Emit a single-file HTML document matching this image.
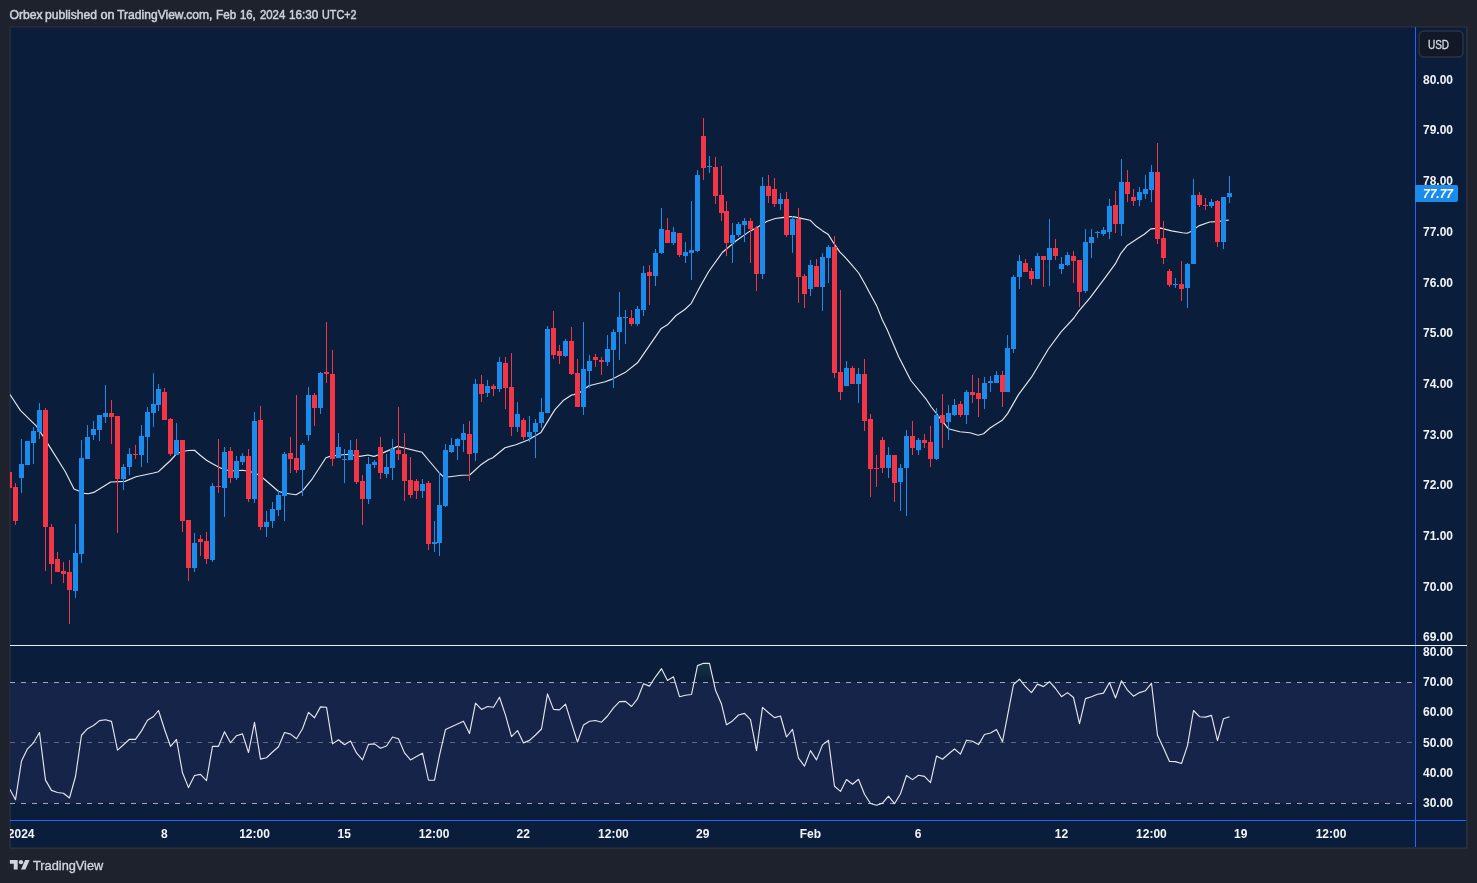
<!DOCTYPE html>
<html lang="en">
<head>
<meta charset="utf-8">
<title>Orbex published on TradingView.com</title>
<style>
html,body{margin:0;padding:0;background:#1e222d;}
body{width:1477px;height:883px;overflow:hidden;position:relative;font-family:"Liberation Sans",sans-serif;}
svg{position:absolute;left:0;top:0;display:block;}
text{font-family:"Liberation Sans",sans-serif;}
.ax text{font-size:12px;font-weight:bold;fill:#f3f4f8;}
.tm text{font-size:12px;font-weight:bold;fill:#f3f4f8;text-anchor:middle;}
</style>
</head>
<body>
<svg width="1477" height="883" viewBox="0 0 1477 883">
<defs>
<clipPath id="pane"><rect x="10" y="28" width="1405" height="819"/></clipPath>
<linearGradient id="obg" x1="0" y1="655" x2="0" y2="682.5" gradientUnits="userSpaceOnUse">
<stop offset="0" stop-color="#4caf50" stop-opacity="0.22"/><stop offset="1" stop-color="#4caf50" stop-opacity="0"/>
</linearGradient>
</defs>
<rect x="0" y="0" width="1477" height="883" fill="#1e222d"/>
<rect x="9.4" y="26.2" width="1458.3" height="823" fill="#2b2f3b"/>
<rect x="10.8" y="27.5" width="1455.2" height="819.9" fill="#0a1e3b"/>
<text y="19.2" font-size="12" fill="#cdd0da" stroke="#cdd0da" stroke-width="0.5"><tspan x="9.5" textLength="33.2" lengthAdjust="spacingAndGlyphs">Orbex</tspan> <tspan x="45.1" textLength="51.8" lengthAdjust="spacingAndGlyphs">published</tspan> <tspan x="100.4" textLength="14.2" lengthAdjust="spacingAndGlyphs">on</tspan> <tspan x="117.2" textLength="95.2" lengthAdjust="spacingAndGlyphs">TradingView.com,</tspan> <tspan x="216.1" textLength="20.1" lengthAdjust="spacingAndGlyphs">Feb</tspan> <tspan x="239.9" textLength="15.8" lengthAdjust="spacingAndGlyphs">16,</tspan> <tspan x="259.9" textLength="25.4" lengthAdjust="spacingAndGlyphs">2024</tspan> <tspan x="289" textLength="29.3" lengthAdjust="spacingAndGlyphs">16:30</tspan> <tspan x="322" textLength="34.5" lengthAdjust="spacingAndGlyphs">UTC+2</tspan></text>
<g clip-path="url(#pane)">
<g shape-rendering="crispEdges">
<rect x="10" y="682" width="1405" height="121" fill="#16244a"/>
</g>
<g fill="url(#obg)"><polygon points="651.82,682.5 655.5,676.8 661.5,668.7 667.5,680.4 673.5,676.8 675.22,682.5"/><polygon points="693.99,682.5 697.5,665.6 703.5,663.3 709.5,663.3 713.78,682.5"/><polygon points="1015.76,682.5 1019.5,679.2 1022.18,682.5"/><polygon points="1048.52,682.5 1049.5,681.7 1050.21,682.5"/><polygon points="1120.88,682.5 1121.5,680.7 1122.64,682.5"/></g>
<g fill="none" stroke-width="1" shape-rendering="crispEdges">
<path d="M10 682.5H1415M10 803.5H1415" stroke="#a4a7b1" stroke-dasharray="5 6"/>
<path d="M10 742.5H1415" stroke="#5f6680" stroke-dasharray="5 6"/>
</g>
<polyline fill="none" stroke="#e4e6ec" stroke-width="1.15" stroke-linejoin="round" points="10,394.5 20.4,410.4 36.7,426.4 47.6,443.4 65.2,471.5 74,489 78.8,491 84.2,493.4 88.3,493.8 93.75,492.4 110.7,482 125,481.4 135.9,476.7 153.5,473 158.5,471.7 164.5,466 170.5,460.5 176.5,453.8 182.5,451.5 188.5,450.5 194.5,450.2 200.5,455.5 206.5,460.3 212.5,463.8 218.5,467 224.5,469.8 230.5,470.6 236.5,470.7 242.5,470.3 248.5,471.3 254.5,472.8 260.5,476 266.5,481 278.3,491.3 283.75,493 296,494.7 302.1,491.3 312.3,478.8 325.9,457.7 330,456.4 340.8,455 348.3,454.3 359.8,456.4 368,455 374.1,456.4 380.2,454.3 383,452.9 397.7,446.4 422.1,452.3 428,459.5 439.4,473 443.2,476.7 447.9,477 461.5,475.3 469.7,475 480.5,465.1 488.7,459.6 492.8,457.7 505,447.7 515.9,444.7 528,440 541,432.4 552.6,413.4 555,409.6 563.2,400.6 571.6,395 574,394.6 580.8,391.9 588.9,385.8 605.2,381.7 610.9,379.65 625,372.6 637.5,362.8 660.9,328.8 667.4,324.8 676.1,315.5 684.8,309.5 691.3,303.3 698.3,290 701.6,284 708.7,271.5 722.3,252.5 735.9,241 749.5,231.4 758.3,226.7 767.1,221.25 775.3,218.5 782.1,217.6 789.5,216.6 792.9,216.6 800,218.15 810.3,220.3 816.3,226.3 822.3,230.65 828.4,234.6 833.7,243.2 839.7,251.85 845.65,257.8 852.2,265.4 858.7,273 865.2,284.5 870.65,294.8 876.6,305.65 882.4,320 887.1,329.6 898.7,356.7 910.9,380.5 925.9,398.8 931.3,407 936.7,413.75 942.9,421.9 948.3,428.7 959.8,431.7 970,432.8 978.2,435.2 983.6,433.8 990,428 1002.6,419.9 1007.6,413.65 1018.5,394.6 1031.5,377.2 1048.4,349 1060.9,332.1 1073.9,318 1078.7,311.2 1090,297.9 1105.9,276.6 1115.1,264.2 1120.7,253.6 1126.8,245.8 1137.6,238.5 1144.3,234.3 1150.8,228.9 1160.7,228.1 1171.5,230.9 1182.4,232.8 1187.1,233.2 1191,231.5 1198.7,225.85 1209.6,222 1217.7,221.6 1228.8,220"/>
<path shape-rendering="crispEdges" fill="#1c8cec" d="M21 439h1v54h-1zM19 464h5v14h-5zM27 441h1v24h-1zM25 441h5v24h-5zM33 427h1v37h-1zM31 431h5v12h-5zM39 403h1v36h-1zM37 410h5v22h-5zM75 524h1v74h-1zM73 553h5v38h-5zM81 440h1v123h-1zM79 458h5v96h-5zM87 425h1v34h-1zM85 437h5v22h-5zM93 421h1v19h-1zM91 429h5v6h-5zM99 415h1v26h-1zM97 415h5v15h-5zM105 385h1v38h-1zM103 413h5v4h-5zM123 464h1v26h-1zM121 467h5v12h-5zM129 448h1v27h-1zM127 454h5v13h-5zM141 425h1v42h-1zM139 436h5v19h-5zM147 407h1v56h-1zM145 412h5v25h-5zM153 373h1v54h-1zM151 404h5v9h-5zM158 384h1v27h-1zM156 389h5v16h-5zM176 423h1v32h-1zM174 440h5v15h-5zM194 533h1v39h-1zM192 543h5v25h-5zM212 483h1v79h-1zM210 486h5v74h-5zM224 447h1v70h-1zM222 452h5v36h-5zM236 456h1v24h-1zM234 461h5v17h-5zM242 453h1v12h-1zM240 456h5v6h-5zM254 412h1v91h-1zM252 421h5v78h-5zM266 511h1v26h-1zM264 522h5v5h-5zM272 502h1v26h-1zM270 509h5v12h-5zM278 490h1v26h-1zM276 495h5v15h-5zM284 452h1v69h-1zM282 454h5v42h-5zM302 443h1v53h-1zM300 445h5v25h-5zM308 387h1v54h-1zM306 395h5v40h-5zM320 372h1v42h-1zM318 373h5v35h-5zM338 433h1v25h-1zM336 447h5v11h-5zM344 449h1v34h-1zM342 459h5v1h-5zM350 440h1v20h-1zM348 450h5v10h-5zM368 457h1v47h-1zM366 464h5v35h-5zM374 460h1v8h-1zM372 462h5v3h-5zM386 454h1v24h-1zM384 467h5v7h-5zM392 439h1v41h-1zM390 449h5v19h-5zM422 479h1v19h-1zM420 484h5v7h-5zM434 521h1v31h-1zM432 542h5v2h-5zM439 472h1v84h-1zM437 505h5v38h-5zM445 444h1v63h-1zM443 450h5v56h-5zM451 438h1v15h-1zM449 445h5v7h-5zM457 438h1v22h-1zM455 439h5v7h-5zM463 424h1v28h-1zM461 433h5v7h-5zM475 379h1v82h-1zM473 384h5v69h-5zM487 380h1v17h-1zM485 386h5v7h-5zM499 357h1v35h-1zM497 362h5v27h-5zM517 402h1v30h-1zM515 414h5v13h-5zM529 416h1v26h-1zM527 432h5v5h-5zM535 419h1v39h-1zM533 423h5v9h-5zM541 398h1v30h-1zM539 412h5v11h-5zM547 326h1v87h-1zM545 329h5v84h-5zM565 339h1v18h-1zM563 341h5v15h-5zM583 322h1v93h-1zM581 369h5v38h-5zM589 355h1v33h-1zM587 361h5v10h-5zM607 335h1v31h-1zM605 349h5v13h-5zM613 329h1v59h-1zM611 332h5v18h-5zM619 292h1v68h-1zM617 317h5v15h-5zM625 310h1v34h-1zM623 317h5v1h-5zM637 306h1v20h-1zM635 309h5v15h-5zM643 266h1v50h-1zM641 273h5v37h-5zM655 249h1v37h-1zM653 253h5v23h-5zM661 208h1v46h-1zM659 229h5v24h-5zM673 227h1v18h-1zM671 232h5v11h-5zM685 242h1v21h-1zM683 252h5v4h-5zM691 201h1v79h-1zM689 250h5v3h-5zM697 170h1v82h-1zM695 175h5v76h-5zM709 156h1v17h-1zM707 166h5v1h-5zM732 223h1v40h-1zM730 235h5v8h-5zM738 222h1v15h-1zM736 224h5v11h-5zM744 218h1v24h-1zM742 221h5v4h-5zM762 177h1v102h-1zM760 186h5v88h-5zM780 193h1v17h-1zM778 199h5v5h-5zM792 216h1v37h-1zM790 219h5v16h-5zM810 260h1v36h-1zM808 265h5v24h-5zM822 253h1v58h-1zM820 257h5v30h-5zM828 245h1v38h-1zM826 247h5v11h-5zM846 361h1v25h-1zM844 368h5v18h-5zM858 368h1v35h-1zM856 374h5v10h-5zM888 447h1v31h-1zM886 455h5v13h-5zM900 464h1v47h-1zM898 468h5v14h-5zM906 430h1v86h-1zM904 436h5v32h-5zM918 438h1v17h-1zM916 440h5v10h-5zM936 408h1v52h-1zM934 415h5v44h-5zM948 405h1v35h-1zM946 413h5v9h-5zM954 399h1v17h-1zM952 405h5v10h-5zM966 390h1v34h-1zM964 392h5v23h-5zM984 377h1v32h-1zM982 383h5v16h-5zM990 376h1v16h-1zM988 381h5v2h-5zM996 371h1v12h-1zM994 375h5v8h-5zM1007 335h1v57h-1zM1005 348h5v44h-5zM1013 275h1v78h-1zM1011 277h5v72h-5zM1019 255h1v34h-1zM1017 261h5v16h-5zM1037 253h1v26h-1zM1035 256h5v23h-5zM1049 219h1v67h-1zM1047 248h5v12h-5zM1061 257h1v17h-1zM1059 264h5v5h-5zM1067 252h1v14h-1zM1065 255h5v10h-5zM1085 229h1v64h-1zM1083 242h5v49h-5zM1091 229h1v29h-1zM1089 237h5v6h-5zM1097 231h1v7h-1zM1095 232h5v1h-5zM1103 227h1v9h-1zM1101 230h5v4h-5zM1109 199h1v40h-1zM1107 206h5v26h-5zM1121 159h1v77h-1zM1119 182h5v42h-5zM1139 187h1v19h-1zM1137 192h5v8h-5zM1145 175h1v24h-1zM1143 189h5v5h-5zM1151 165h1v37h-1zM1149 172h5v18h-5zM1175 278h1v10h-1zM1173 284h5v1h-5zM1187 263h1v45h-1zM1185 264h5v24h-5zM1193 179h1v85h-1zM1191 195h5v69h-5zM1211 199h1v9h-1zM1209 202h5v4h-5zM1223 197h1v52h-1zM1221 197h5v45h-5zM1229 176h1v27h-1zM1227 193h5v4h-5z"/>
<path shape-rendering="crispEdges" fill="#f23645" d="M9 472h1v16h-1zM7 472h5v16h-5zM15 483h1v42h-1zM13 487h5v34h-5zM45 408h1v163h-1zM43 410h5v117h-5zM51 524h1v60h-1zM49 527h5v37h-5zM57 552h1v20h-1zM55 559h5v13h-5zM63 562h1v21h-1zM61 571h5v3h-5zM69 560h1v64h-1zM67 572h5v18h-5zM111 400h1v44h-1zM109 413h5v4h-5zM117 416h1v117h-1zM115 416h5v63h-5zM135 445h1v14h-1zM133 454h5v1h-5zM164 388h1v32h-1zM162 392h5v28h-5zM170 418h1v38h-1zM168 419h5v35h-5zM182 440h1v92h-1zM180 440h5v81h-5zM188 520h1v61h-1zM186 520h5v48h-5zM200 535h1v21h-1zM198 539h5v3h-5zM206 532h1v32h-1zM204 541h5v18h-5zM218 439h1v54h-1zM216 486h5v1h-5zM230 447h1v36h-1zM228 451h5v27h-5zM248 449h1v53h-1zM246 456h5v43h-5zM260 406h1v124h-1zM258 420h5v107h-5zM290 437h1v36h-1zM288 453h5v6h-5zM296 395h1v78h-1zM294 458h5v12h-5zM314 393h1v33h-1zM312 395h5v13h-5zM326 322h1v61h-1zM324 372h5v2h-5zM332 350h1v116h-1zM330 374h5v85h-5zM356 439h1v45h-1zM354 450h5v32h-5zM362 475h1v50h-1zM360 481h5v18h-5zM380 437h1v42h-1zM378 447h5v26h-5zM398 407h1v53h-1zM396 450h5v4h-5zM404 433h1v68h-1zM402 454h5v27h-5zM410 457h1v41h-1zM408 480h5v15h-5zM416 479h1v20h-1zM414 481h5v10h-5zM428 481h1v69h-1zM426 483h5v61h-5zM469 421h1v60h-1zM467 434h5v20h-5zM481 375h1v27h-1zM479 384h5v10h-5zM493 384h1v12h-1zM491 386h5v3h-5zM505 357h1v52h-1zM503 363h5v25h-5zM511 353h1v83h-1zM509 387h5v40h-5zM523 418h1v22h-1zM521 420h5v17h-5zM553 311h1v48h-1zM551 328h5v27h-5zM559 345h1v19h-1zM557 351h5v5h-5zM571 327h1v48h-1zM569 341h5v33h-5zM577 359h1v48h-1zM575 373h5v34h-5zM595 354h1v13h-1zM593 357h5v3h-5zM601 357h1v18h-1zM599 360h5v2h-5zM631 310h1v16h-1zM629 318h5v6h-5zM649 265h1v40h-1zM647 272h5v4h-5zM667 218h1v25h-1zM665 230h5v13h-5zM679 233h1v24h-1zM677 233h5v22h-5zM703 118h1v62h-1zM701 136h5v32h-5zM715 157h1v47h-1zM713 167h5v29h-5zM721 166h1v55h-1zM719 195h5v18h-5zM726 201h1v55h-1zM724 211h5v32h-5zM750 218h1v45h-1zM748 221h5v8h-5zM756 226h1v65h-1zM754 228h5v46h-5zM768 175h1v28h-1zM766 186h5v10h-5zM774 178h1v29h-1zM772 189h5v15h-5zM786 192h1v45h-1zM784 199h5v36h-5zM798 208h1v95h-1zM796 219h5v58h-5zM804 274h1v34h-1zM802 276h5v18h-5zM816 259h1v28h-1zM814 266h5v21h-5zM834 236h1v142h-1zM832 247h5v126h-5zM840 290h1v110h-1zM838 372h5v20h-5zM852 366h1v18h-1zM850 368h5v16h-5zM864 359h1v72h-1zM862 374h5v47h-5zM870 414h1v83h-1zM868 419h5v50h-5zM876 455h1v32h-1zM874 468h5v1h-5zM882 437h1v36h-1zM880 440h5v28h-5zM894 455h1v47h-1zM892 455h5v28h-5zM912 421h1v34h-1zM910 436h5v12h-5zM924 434h1v14h-1zM922 440h5v3h-5zM930 426h1v41h-1zM928 442h5v17h-5zM942 394h1v54h-1zM940 415h5v8h-5zM960 401h1v16h-1zM958 404h5v11h-5zM972 375h1v28h-1zM970 392h5v3h-5zM978 378h1v39h-1zM976 393h5v6h-5zM1002 371h1v36h-1zM1000 375h5v17h-5zM1025 259h1v13h-1zM1023 263h5v9h-5zM1031 268h1v17h-1zM1029 271h5v8h-5zM1043 256h1v31h-1zM1041 256h5v4h-5zM1055 239h1v21h-1zM1053 248h5v8h-5zM1073 251h1v32h-1zM1071 256h5v5h-5zM1079 260h1v47h-1zM1077 260h5v32h-5zM1115 191h1v42h-1zM1113 205h5v19h-5zM1127 170h1v32h-1zM1125 182h5v12h-5zM1133 189h1v17h-1zM1131 197h5v4h-5zM1157 143h1v101h-1zM1155 172h5v67h-5zM1163 221h1v43h-1zM1161 238h5v20h-5zM1169 269h1v18h-1zM1167 271h5v14h-5zM1181 261h1v40h-1zM1179 284h5v5h-5zM1199 192h1v15h-1zM1197 195h5v10h-5zM1205 198h1v12h-1zM1203 205h5v1h-5zM1217 200h1v47h-1zM1215 201h5v41h-5z"/>
<polyline fill="none" stroke="#e4e6ec" stroke-width="1.15" stroke-linejoin="round" points="9.5,788.7 15.5,799.7 21.5,761 27.5,748.8 33.5,742.8 39.5,732.5 45.5,780.1 51.5,790.4 57.5,792.5 63.5,793.3 69.5,798 75.5,776.5 81.5,735.25 87.5,728.7 93.5,725.5 99.5,720.6 105.5,719.8 111.5,721.4 117.5,750.1 123.5,744.7 129.5,739.3 135.5,739.3 141.5,730.9 147.5,720.25 153.5,716.5 158.5,710.5 164.5,729.2 170.5,746.3 176.5,739.5 182.5,772.8 188.5,787.6 194.5,775.5 200.5,774.4 206.5,780.6 212.5,746.3 218.5,746.3 224.5,731.7 230.5,742.75 236.5,735.7 242.5,733.9 248.5,752.5 254.5,722.4 260.5,759.1 266.5,757.75 272.5,752 278.5,746.8 284.5,732.5 290.5,734.1 296.5,738.7 302.5,728.7 308.5,712.4 314.5,717.8 320.5,706.9 326.5,707.2 332.5,743.9 338.5,739.8 344.5,744.7 350.5,741.1 356.5,752.9 362.5,759.9 368.5,744.4 374.5,743.9 380.5,748.3 386.5,746 392.5,737 398.5,738.7 404.5,752.9 410.5,759.9 416.5,756.5 422.5,753.2 428.5,780.25 434.5,780.1 439.5,755.3 445.5,729.5 451.5,726.8 457.5,724 463.5,721.2 469.5,733.6 475.5,703.2 481.5,709.4 487.5,706.5 493.5,707.3 499.5,697.2 505.5,715.1 511.5,736.7 517.5,730.6 523.5,742.9 529.5,740.4 535.5,735 541.5,729 547.5,693.9 553.5,709.4 559.5,709.9 565.5,704.2 571.5,723.3 577.5,742 583.5,724.9 589.5,721.3 595.5,720.5 601.5,722.2 607.5,716 613.5,707.8 619.5,701.6 625.5,701.4 631.5,706.5 637.5,698.8 643.5,683.7 649.5,686.1 655.5,676.8 661.5,668.7 667.5,680.4 673.5,676.8 679.5,696.7 685.5,695.25 691.5,694.5 697.5,665.6 703.5,663.3 709.5,663.3 715.5,690.2 721.5,704.1 726.5,724.8 732.5,720.9 738.5,715 744.5,713.4 750.5,719.6 756.5,750.6 762.5,707.4 768.5,712.7 774.5,717.6 780.5,716 786.5,737 792.5,729.4 798.5,758.2 804.5,766.1 810.5,750.6 816.5,759.9 822.5,744.9 828.5,740.3 834.5,786.2 840.5,791.4 846.5,779.5 852.5,784.3 858.5,779.3 864.5,794.2 870.5,803.5 876.5,805.3 882.5,803.1 888.5,796.1 894.5,803.7 900.5,793.7 906.5,775.5 912.5,779.6 918.5,775.3 924.5,776.4 930.5,782.6 936.5,756.1 942.5,759.2 948.5,754 954.5,749 960.5,754.1 966.5,740.2 972.5,741.3 978.5,744.6 984.5,734.5 990.5,733 996.5,729.5 1002.5,741.7 1007.5,715.9 1013.5,684.5 1019.5,679.2 1025.5,686.6 1031.5,692.6 1037.5,684.1 1043.5,686.6 1049.5,681.7 1055.5,688.5 1061.5,696.7 1067.5,692.6 1073.5,697.5 1079.5,723.6 1085.5,698.6 1091.5,696.7 1097.5,694.2 1103.5,693.1 1109.5,682.5 1115.5,698 1121.5,680.7 1127.5,690.2 1133.5,696.2 1139.5,692.6 1145.5,690.7 1151.5,683.3 1157.5,735.3 1163.5,748 1169.5,761.4 1175.5,761.6 1181.5,763.5 1187.5,745.6 1193.5,710.5 1199.5,716.7 1205.5,717.1 1211.5,715.4 1217.5,740.7 1223.5,718.7 1229.5,716.7"/>
</g>
<g shape-rendering="crispEdges">
<rect x="10" y="820" width="1456" height="1" fill="#2962ff"/>
<rect x="1415" y="27" width="1" height="820" fill="#2962ff"/>
<rect x="10" y="645" width="1457" height="1" fill="#e9ebf0"/>
</g>
<rect x="1419.25" y="31" width="43.75" height="26" rx="4.5" ry="4.5" fill="#131827" stroke="#2c3243" stroke-width="1.4"/>
<text x="1427.9" y="49.3" font-size="12" fill="#d9dce4" stroke="#d9dce4" stroke-width="0.3" textLength="21.2" lengthAdjust="spacingAndGlyphs">USD</text>
<g class="ax"><text x="1423" y="640.9">69.00</text><text x="1423" y="590.75">70.00</text><text x="1423" y="539.75">71.00</text><text x="1423" y="488.75">72.00</text><text x="1423" y="438.75">73.00</text><text x="1423" y="387.85">74.00</text><text x="1423" y="336.75">75.00</text><text x="1423" y="286.75">76.00</text><text x="1423" y="235.75">77.00</text><text x="1423" y="184.75">78.00</text><text x="1423" y="134.25">79.00</text><text x="1423" y="83.75">80.00</text><text x="1423" y="807.08">30.00</text><text x="1423" y="776.86">40.00</text><text x="1423" y="746.64">50.00</text><text x="1423" y="716.43">60.00</text><text x="1423" y="686.22">70.00</text><text x="1423" y="656">80.00</text></g>
<path d="M1415 185h41a2 2 0 0 1 2 2v13a2 2 0 0 1-2 2h-41z" fill="#1c8cec"/>
<text x="1423" y="198" font-size="12" font-weight="bold" font-style="italic" fill="#ffffff">77.77</text>
<g class="tm" clip-path="url(#pane)"><text x="21.2" y="838">2024</text><text x="164.4" y="838">8</text><text x="254.5" y="838">12:00</text><text x="344.3" y="838">15</text><text x="434" y="838">12:00</text><text x="523.3" y="838">22</text><text x="613.4" y="838">12:00</text><text x="702.8" y="838">29</text><text x="810.3" y="838">Feb</text><text x="918" y="838">6</text><text x="1061.4" y="838">12</text><text x="1151.4" y="838">12:00</text><text x="1240.8" y="838">19</text><text x="1331" y="838">12:00</text></g>
<g fill="#d1d4dc" transform="translate(9.85 857.85) scale(0.557 0.535)">
<path d="M14 22H7V11H0V4h14v18zM28 22h-8l7.5-18h8L28 22z"/><circle cx="20" cy="8" r="4"/>
</g>
<text x="33" y="869.5" font-size="12.6" fill="#d1d4dc" stroke="#d1d4dc" stroke-width="0.35" textLength="70.3" lengthAdjust="spacingAndGlyphs">TradingView</text>
</svg>
</body>
</html>
